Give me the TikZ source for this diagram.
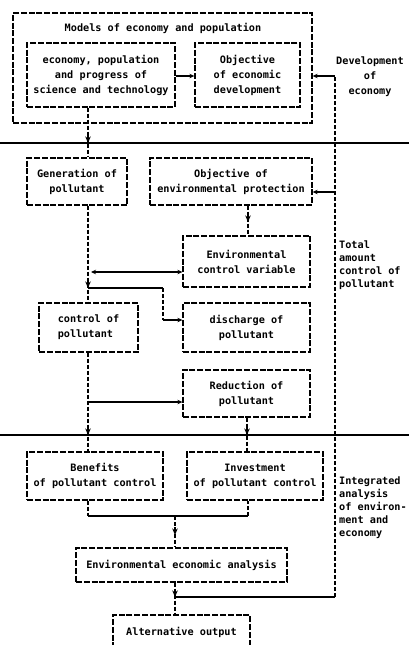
\documentclass[tikz,border=0pt]{standalone}
\usepackage{fontspec}
\setmonofont{DejaVu Sans Mono}
\usetikzlibrary{arrows.meta}

\begin{document}
\begin{tikzpicture}[
    x=1pt, y=-1pt,
    every node/.style={font=\ttfamily\bfseries\fontsize{10.2}{15}\selectfont, inner sep=0pt},
    box/.style={rectangle, draw, line width=1.3pt, dash pattern=on 6pt off 1.8pt, align=center},
    conn/.style={line width=1.3pt, dash pattern=on 4pt off 2pt},
    hconn/.style={line width=1.2pt},
    arrow/.style={-{Stealth[length=5pt,width=4.5pt]}},
    down arrow/.style={-{Stealth[length=6.5pt,width=5.5pt]}, line width=1.2pt},
    sidelabel/.style={anchor=north west, align=left, font=\ttfamily\bfseries\fontsize{10.2}{13}\selectfont},
]
    \useasboundingbox (0,0) rectangle (409,645);

    % Separators between the three stages
    \draw[line width=1.3pt] (0,143) -- (409,143);
    \draw[line width=1.3pt] (0,435) -- (409,435);

    % Stage 1: economy and population
    \node[box, minimum width=299pt, minimum height=110pt] (models) at (162.5,68) {};
    \node (modelstitle) at (163,28) {Models of economy and population};
    \node[box, minimum width=148pt, minimum height=64pt] (esp) at (101,75)
        {economy, population\\and progress of\\science and technology};
    \node[box, minimum width=105pt, minimum height=64pt] (objdev) at (247.5,75)
        {Objective\\of economic\\development};
    \node[align=center] (devlabel) at (370,77) {Development\\of\\economy};

    % Stage 2: total amount control
    \node[box, minimum width=100pt, minimum height=47pt] (gen) at (77,181.5)
        {Generation of\\pollutant};
    \node[box, minimum width=162pt, minimum height=47pt] (objenv) at (231,181.5)
        {Objective of\\environmental protection};
    \node[box, minimum width=127pt, minimum height=51pt] (envctl) at (246.5,261.5)
        {Environmental\\control variable};
    \node[box, minimum width=99pt, minimum height=49pt, align=left] (ctl) at (88.5,327.5)
        {control of\\pollutant};
    \node[box, minimum width=127pt, minimum height=49pt] (disch) at (246.5,327.5)
        {discharge of\\pollutant};
    \node[box, minimum width=127pt, minimum height=47pt] (red) at (246.5,393.5)
        {Reduction of\\pollutant};
    \node[sidelabel] (totallabel) at (339,241) {Total\\amount\\control of\\pollutant};

    % Stage 3: integrated analysis
    \node[box, minimum width=136pt, minimum height=48pt] (benef) at (95,476)
        {Benefits\\of pollutant control};
    \node[box, minimum width=136pt, minimum height=48pt] (inv) at (255,476)
        {Investment\\of pollutant control};
    \node[box, minimum width=211pt, minimum height=34pt] (econ) at (181.5,565)
        {Environmental economic analysis};
    \node[box, minimum width=137pt, minimum height=34pt] (alt) at (181.5,632)
        {Alternative output};
    \node[sidelabel] (intlabel) at (339,477) {Integrated\\analysis\\of environ-\\ment and\\economy};

    % points where the flow lines carry their arrowheads
    \coordinate (rtop) at (335,76);
    \coordinate (rbot) at (335,597);
    \coordinate (genin) at (88,143);
    \coordinate (ctlin) at (88,288);
    \coordinate (envin) at (248,222);
    \coordinate (benefin) at (88,435);
    \coordinate (invin) at (247,435);
    \coordinate (bracket) at (175,516);
    \coordinate (econin) at (175,535);
    \coordinate (altin) at (175,597);

    % connectors, top stage
    \draw[hconn, arrow] (esp.east |- 0,76) -- (objdev.west |- 0,76);
    \draw[conn] (rbot) -- (rtop);
    \draw[hconn, arrow] (rtop) -- (models.east |- rtop);
    \draw[conn] (esp.south -| genin) -- (gen.north -| genin);
    \draw[down arrow] (genin) ++(0,-8) -- (genin);

    % connectors, middle stage
    \draw[hconn, arrow] (rtop |- 0,192) -- (objenv.east |- 0,192);
    \draw[conn] (objenv.south -| envin) -- (envctl.north -| envin);
    \draw[down arrow] (envin) ++(0,-8) -- (envin);
    \draw[conn] (gen.south -| ctlin) -- (ctl.north -| ctlin);
    \draw[down arrow] (ctlin) ++(0,-8) -- (ctlin);
    \draw[hconn, {Stealth[length=5pt,width=4.5pt]}-{Stealth[length=5pt,width=4.5pt]}, shorten <=3pt]
        (ctlin |- 0,272) -- (envctl.west |- 0,272);
    \draw[hconn] (ctlin) -- (163,288);
    \draw[conn] (163,288) -- (163,320);
    \draw[hconn, arrow] (163,320) -- (disch.west |- 0,320);
    \draw[hconn, arrow] (ctlin |- 0,402) -- (red.west |- 0,402);
    \draw[conn] (ctl.south -| benefin) -- (benef.north -| benefin);
    \draw[down arrow] (benefin) ++(0,-8) -- (benefin);
    \draw[conn] (red.south -| invin) -- (inv.north -| invin);
    \draw[down arrow] (invin) ++(0,-8) -- (invin);

    % connectors, bottom stage
    \draw[conn] (benef.south -| benefin) -- (benefin |- bracket);
    \draw[hconn] (benefin |- bracket) -- (248,516);
    \draw[conn] (248,516) -- (inv.south -| 248,0);
    \draw[conn] (bracket) -- (econ.north -| econin);
    \draw[down arrow] (econin) ++(0,-8) -- (econin);
    \draw[conn] (econ.south -| altin) -- (alt.north -| altin);
    \draw[down arrow] (altin) ++(0,-8) -- (altin);
    \draw[hconn] (rbot) -- (altin);
\end{tikzpicture}
\end{document}
